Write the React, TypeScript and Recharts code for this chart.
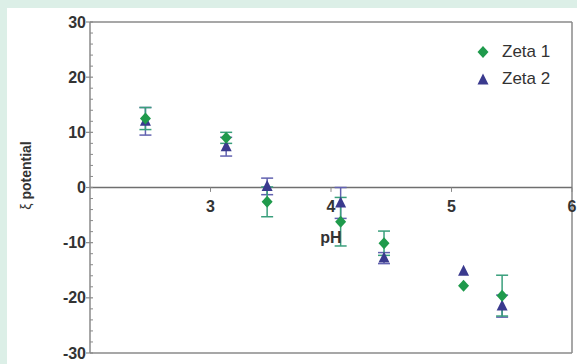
import {
  ErrorBar,
  ReferenceDot,
  ReferenceLine,
  Scatter,
  ScatterChart,
  XAxis,
  YAxis,
} from "recharts";

const FONT = '"Liberation Sans", Arial, sans-serif';
const AXIS_GREY = "#8a8a8a";
const TEXT = "#333";

const ZETA1_COLOR = "#1f9a4c";
const ZETA1_ERR = "#3a9f7c";
const ZETA2_COLOR = "#3a3a8e";
const ZETA2_ERR = "#6262b0";

// pH values of the measurements
const phValues = [2.46, 3.13, 3.47, 4.08, 4.44, 5.1, 5.42];
const zeta1 = [12.5, 9.0, -2.6, -6.2, -10.1, -17.8, -19.6];
const zeta1Err = [2.0, 1.0, 2.7, 4.4, 2.2, null, 3.7];
const zeta2 = [12.0, 7.4, 0.2, -2.8, -12.8, -15.2, -21.5];
const zeta2Err = [2.5, 1.7, 1.5, 2.8, 1.0, null, 2.0];

const xTicks = [3, 4, 5, 6];
const yTicks = [
  -30, -28, -26, -24, -22, -20, -18, -16, -14, -12, -10, -8, -6, -4, -2, 0,
  2, 4, 6, 8, 10, 12, 14, 16, 18, 20, 22, 24, 26, 28, 30,
];
const legendItems = [
  { name: "Zeta 1", color: ZETA1_COLOR, shape: "diamond" },
  { name: "Zeta 2", color: ZETA2_COLOR, shape: "triangle" },
];

const zeta1Data = phValues.map((ph, i) => ({ ph, zeta: zeta1[i], err: zeta1Err[i] }));
const zeta2Data = phValues.map((ph, i) => ({ ph, zeta: zeta2[i], err: zeta2Err[i] }));

function Diamond({ cx, cy, fill }: { cx?: number; cy?: number; fill?: string }) {
  if (cx == null || cy == null) return null;
  return <polygon points={`${cx},${cy - 6} ${cx + 5.5},${cy} ${cx},${cy + 6} ${cx - 5.5},${cy}`} fill={fill} />;
}

function Triangle({ cx, cy, fill }: { cx?: number; cy?: number; fill?: string }) {
  if (cx == null || cy == null) return null;
  return <polygon points={`${cx},${cy - 6.5} ${cx + 5.5},${cy + 4.5} ${cx - 5.5},${cy + 4.5}`} fill={fill} />;
}

// eslint-disable-next-line @typescript-eslint/no-explicit-any
function YTick(props: any) {
  const { x, y, payload } = props;
  const v = payload.value as number;
  if (v % 10 !== 0) {
    return <line x1={x} x2={x + 3} y1={y} y2={y} stroke={AXIS_GREY} strokeWidth={1} />;
  }
  return (
    <g>
      <line x1={x - 4} x2={x + 3} y1={y} y2={y} stroke={AXIS_GREY} strokeWidth={1.2} />
      <text
        x={x - 4}
        y={y}
        textAnchor="end"
        dominantBaseline="central"
        fontFamily={FONT}
        fontSize={16}
        fontWeight="bold"
        fill={TEXT}
      >
        {v}
      </text>
    </g>
  );
}

// eslint-disable-next-line @typescript-eslint/no-explicit-any
function YLabel(props: any) {
  const { viewBox } = props;
  const cx = viewBox.x + 19;
  const cy = viewBox.y + viewBox.height / 2 - 12;
  return (
    <text
      x={cx}
      y={cy}
      transform={`rotate(-90, ${cx}, ${cy})`}
      textAnchor="middle"
      dominantBaseline="central"
      fontFamily={FONT}
      fontSize={14}
      fill={TEXT}
    >
      <tspan>ξ </tspan>
      <tspan fontWeight="bold">potential</tspan>
    </text>
  );
}

function LegendBox() {
  return (
    <div style={{ position: "absolute", left: 468, top: 30, fontFamily: FONT, fontSize: 17, color: TEXT }}>
      {legendItems.map((item) => (
        <div key={item.name} style={{ display: "flex", alignItems: "center", height: 27 }}>
          <svg width={16} height={16} style={{ marginRight: 11 }}>
            {item.shape === "diamond" ? (
              <Diamond cx={8} cy={8} fill={item.color} />
            ) : (
              <Triangle cx={8} cy={9} fill={item.color} />
            )}
          </svg>
          <span>{item.name}</span>
        </div>
      ))}
    </div>
  );
}

export default function App() {
  return (
    <div style={{ position: "absolute", left: 0, top: 0, width: 577, height: 364, background: "#dcefe7" }}>
      <div style={{ position: "absolute", left: 7, top: 8, width: 570, height: 356, background: "#fff" }}>
        <ScatterChart width={570} height={356} margin={{ top: 14, right: 5, bottom: 11, left: 0 }}>
          <XAxis type="number" dataKey="ph" domain={[2, 6]} ticks={xTicks} hide />
          <YAxis
            type="number"
            dataKey="zeta"
            domain={[-30, 30]}
            ticks={yTicks}
            interval={0}
            width={83}
            tickSize={0}
            tickMargin={0}
            tickLine={false}
            tick={<YTick />}
            axisLine={{ stroke: AXIS_GREY, strokeWidth: 1.5 }}
            label={<YLabel />}
          />
          <ReferenceLine y={30} stroke={AXIS_GREY} strokeWidth={1.5} />
          <ReferenceLine y={-30} stroke={AXIS_GREY} strokeWidth={1.5} />
          <ReferenceLine x={6} stroke={AXIS_GREY} strokeWidth={1.5} />
          <ReferenceLine y={0} stroke="#6f6f6f" strokeWidth={1.5} />
          {xTicks.map((t) => (
            <ReferenceLine
              key={`tick-${t}`}
              segment={[
                { x: t, y: 0 },
                { x: t, y: -0.8 },
              ]}
              stroke={AXIS_GREY}
            />
          ))}
          {xTicks.map((t) => (
            <ReferenceDot
              key={`lab-${t}`}
              x={t}
              y={0}
              r={0}
              label={{
                value: String(t),
                position: "bottom",
                offset: 13,
                fontFamily: FONT,
                fontSize: 16,
                fontWeight: "bold",
                fill: TEXT,
              }}
            />
          ))}
          <ReferenceDot
            x={4}
            y={-9}
            r={0}
            label={{
              value: "pH",
              position: "center",
              fontFamily: FONT,
              fontSize: 16,
              fontWeight: "bold",
              fill: TEXT,
            }}
          />
          <Scatter name="Zeta 2" data={zeta2Data} fill={ZETA2_COLOR} shape={<Triangle />} isAnimationActive={false}>
            <ErrorBar dataKey="err" direction="y" width={6} stroke={ZETA2_ERR} strokeWidth={1.5} isAnimationActive={false} />
          </Scatter>
          <Scatter name="Zeta 1" data={zeta1Data} fill={ZETA1_COLOR} shape={<Diamond />} isAnimationActive={false}>
            <ErrorBar dataKey="err" direction="y" width={6} stroke={ZETA1_ERR} strokeWidth={1.5} isAnimationActive={false} />
          </Scatter>
        </ScatterChart>
        <LegendBox />
      </div>
    </div>
  );
}
